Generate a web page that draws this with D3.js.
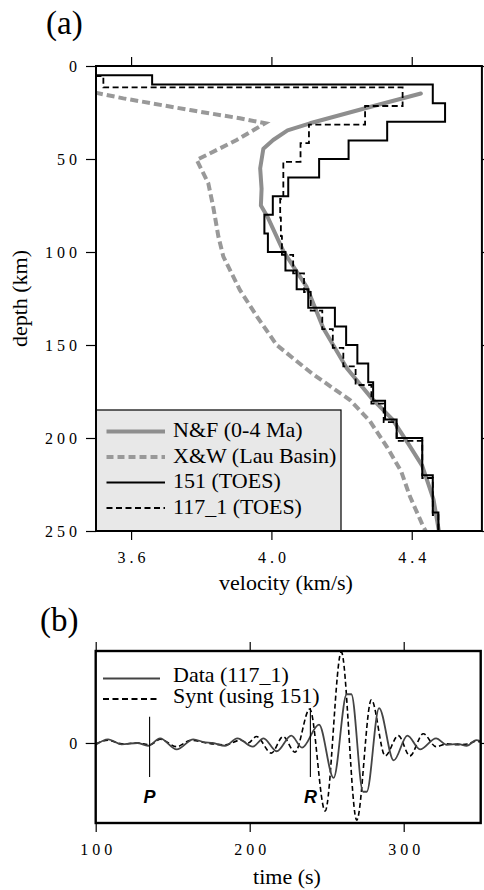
<!DOCTYPE html>
<html><head><meta charset="utf-8">
<script src="https://cdn.jsdelivr.net/npm/d3@7"></script>
<style>
html,body{margin:0;padding:0;background:#fff;}
svg{display:block;}
svg text{font-family:"Liberation Serif","Times New Roman",Tinos,"DejaVu Serif",serif;}
svg text.sans{font-family:"Liberation Sans",Arial,Helvetica,sans-serif;}
</style></head>
<body>
<svg id="chart" width="484" height="890"></svg>
<script>
// ---------- DATA ----------
// Panel (a): layered models (layer boundaries in km, velocities km/s)
const bounds151 = [0,5,10,20,30,40,50,60,70,80,90,100,110,120,130,140,150,160,170,180,190,200,210,220,230,240,250];
const vels151   = [3.5,3.66,4.46,4.495,4.33,4.22,4.136,4.048,4.004,3.98,3.99,4.04,4.072,4.105,4.181,4.213,4.245,4.276,4.29,4.324,4.357,4.43,4.43,4.46,4.46,4.476];
const bounds117 = [0,5.4,11.5,21.5,31.5,41.5,51.5,61.5,71.5,81.5,91.5,101.5,111.5,121.5,131.5,141.5,151.5,161.5,171.5,181.5,191.5,201.5,211.5,221.5,231.5,241.5,250];
const vels117   = [3.5,3.521,4.374,4.267,4.107,4.083,4.034,4.034,4.025,4.027,4.03,4.062,4.093,4.112,4.145,4.175,4.205,4.24,4.285,4.32,4.357,4.43,4.43,4.46,4.46,4.476];
// N&F (0-4 Ma) profile
const nfDepth = [14.8,22.6,30.8,34.6,39.8,44.5,55,66,75,81.5,99.5,118.6,141,162.5,178.7,190,203,215,233,249.5];
const nfVel   = [4.426,4.27,4.11,4.046,4.005,3.977,3.968,3.972,3.97,3.99,4.034,4.1,4.148,4.215,4.286,4.345,4.39,4.43,4.462,4.477];
// X&W (Lau Basin) profile
const xwDepth = [14.3,17.4,23.7,28.1,30.8,39.8,50.5,63,75.6,91.8,102.5,120.4,135,150,165.2,179.6,191,205,218,231.5,247.7,250];
const xwVel   = [3.497,3.578,3.768,3.91,3.982,3.901,3.787,3.82,3.834,3.849,3.863,3.91,3.96,4.015,4.115,4.224,4.281,4.33,4.37,4.395,4.433,4.44];
const velTicks = [3.6,4.0,4.4];
const depthTicks = [0,50,100,150,200,250];
const legendA = ["N&F (0-4 Ma)","X&W (Lau Basin)","151 (TOES)","117_1 (TOES)"];

// Panel (b): waveforms (time s, normalized amplitude)
const dataT = [100,108,116.7,127,134,141.8,152.6,163.4,170,176,184,192,202,209,217.5,227,234,245,254.5,263,266,273.6,276,284,293.5,302.4,310.6,321,328,335,341,347,350];
const dataA = [-0.02,0.04,-0.015,0.0,-0.03,0.05,-0.07,0.04,0.01,0.0,-0.03,0.05,-0.04,0.05,-0.09,0.08,-0.05,0.2,-0.38,0.53,0.53,-0.53,-0.53,0.38,-0.19,0.08,-0.07,0.05,-0.02,-0.01,-0.03,0.03,0.02];
const syntT = [100,108,117,127,135,142,152.5,162,172,184,194,199,204.4,214,221.7,229.4,239,249,259.5,269.5,279,288,296.5,304,312.7,321,328,335,342,347,350];
const syntA = [-0.01,0.03,-0.01,0.0,-0.02,0.04,-0.04,0.03,0.0,-0.02,0.03,0.0,0.07,-0.11,0.07,-0.1,0.37,-0.74,0.99,-0.84,0.47,-0.14,0.08,-0.14,0.1,-0.04,-0.01,-0.02,-0.01,0.02,0.01];
const timeTicks = [100,200,300];
const ampTicks = [0];
const phaseNames = ["P","R"];
const phaseTimes = [135,239.4];
const legendB = ["Data (117_1)","Synt (using 151)"];

// ---------- DRAW ----------
const svg = d3.select("#chart");

// ===== Panel (a) =====
const A = {l:96, r:481.9, t:66, b:531};
const x = d3.scaleLinear().domain([3.5,4.6]).range([A.l,A.r]);
const y = d3.scaleLinear().domain([0,250]).range([A.t,A.b]);

const defs = svg.append("defs");
defs.append("clipPath").attr("id","clipA")
  .append("rect").attr("x",A.l).attr("y",A.t).attr("width",A.r-A.l).attr("height",A.b-A.t);
defs.append("clipPath").attr("id","clipB")
  .append("rect").attr("x",95.7).attr("y",651).attr("width",385).attr("height",172);

const gA = svg.append("g").attr("clip-path","url(#clipA)");

function layerPts(bounds, vels){
  const pts=[];
  vels.forEach((v,i)=>{ pts.push([v,bounds[i]]); pts.push([v,bounds[i+1]]); });
  return pts;
}
const lineVD = d3.line().x(d=>x(d[0])).y(d=>y(d[1]));

gA.append("path").datum(xwVel.map((v,i)=>[v,xwDepth[i]]))
  .attr("d",lineVD).attr("fill","none").attr("stroke","#999").attr("stroke-width",4)
  .attr("stroke-dasharray","8,4");
gA.append("path").datum(nfVel.map((v,i)=>[v,nfDepth[i]]))
  .attr("d",lineVD).attr("fill","none").attr("stroke","#8e8e8e").attr("stroke-width",4)
  .attr("stroke-linejoin","round").attr("stroke-linecap","round");
gA.append("path").datum(layerPts(bounds151,vels151))
  .attr("d",lineVD).attr("fill","none").attr("stroke","#000").attr("stroke-width",2);
gA.append("path").datum(layerPts(bounds117,vels117))
  .attr("d",lineVD).attr("fill","none").attr("stroke","#000").attr("stroke-width",1.8)
  .attr("stroke-dasharray","6,3.5");

// legend (a)
const legA = svg.append("g");
legA.append("rect").attr("x",A.l).attr("y",410).attr("width",245).attr("height",A.b-410)
  .attr("fill","#e8e8e8").attr("stroke","#000").attr("stroke-width",1.2);
const legStyles = [
  {c:"#8e8e8e",w:4,d:null},
  {c:"#999",w:4,d:"7,4"},
  {c:"#000",w:2,d:null},
  {c:"#000",w:2,d:"6,3.5"}
];
legendA.forEach((t,i)=>{
  const ly = 431.5 + i*25.5;
  const ln = legA.append("line").attr("x1",106.5).attr("x2",165).attr("y1",ly).attr("y2",ly)
    .attr("stroke",legStyles[i].c).attr("stroke-width",legStyles[i].w);
  if(legStyles[i].d) ln.attr("stroke-dasharray",legStyles[i].d);
  legA.append("text").attr("x",173).attr("y",ly+5.5).text(t)
    .attr("font-size",22).attr("fill","#000");
});

// axes (a)
function styleAxis(g){
  g.select(".domain").remove();
  g.attr("font-family",null);
  g.selectAll(".tick line").attr("stroke","#000").attr("stroke-width",1.2);
  g.selectAll("text").attr("font-size",16)
    .attr("letter-spacing","4px").attr("fill","#000");
}
svg.append("g").attr("transform",`translate(${A.l},0)`)
  .call(d3.axisLeft(y).tickValues(depthTicks).tickSize(10).tickPadding(5).tickFormat(d3.format("d")))
  .call(styleAxis);
svg.append("g").attr("transform",`translate(${A.r},0)`)
  .call(d3.axisRight(y).tickValues(depthTicks).tickSize(9).tickFormat(""))
  .call(styleAxis);
svg.append("g").attr("transform",`translate(0,${A.b})`)
  .call(d3.axisBottom(x).tickValues(velTicks).tickSize(9).tickFormat(d3.format(".1f")))
  .call(styleAxis)
  .call(g=>g.selectAll("text").attr("y",32).attr("dy",0).attr("dx",2));
svg.append("g").attr("transform",`translate(0,${A.t})`)
  .call(d3.axisTop(x).tickValues(velTicks).tickSize(9).tickFormat(""))
  .call(styleAxis);

svg.append("rect").attr("x",A.l).attr("y",A.t).attr("width",A.r-A.l).attr("height",A.b-A.t)
  .attr("fill","none").attr("stroke","#000").attr("stroke-width",2);

svg.append("text").attr("x",286).attr("y",590).attr("text-anchor","middle")
  .attr("font-size",22).text("velocity (km/s)");
svg.append("text").attr("transform","translate(27,298.5) rotate(-90)").attr("text-anchor","middle")
  .attr("font-size",22).text("depth (km)");
svg.append("text").attr("x",46).attr("y",34).attr("font-size",33).text("(a)");

// ===== Panel (b) =====
const B = {l:95.7, r:480.7, t:651, b:823};
const xb = d3.scaleLinear().domain([100,350]).range([B.l,B.r]);
const yb = d3.scaleLinear().domain([-0.87,1]).range([B.b,B.t]);
const gB = svg.append("g").attr("clip-path","url(#clipB)");
const lineW = d3.line().x(d=>xb(d[0])).y(d=>yb(d[1])).curve(d3.curveMonotoneX);

gB.append("path").datum(syntT.map((t,i)=>[t,syntA[i]]))
  .attr("d",lineW).attr("fill","none").attr("stroke","#000").attr("stroke-width",1.6)
  .attr("stroke-dasharray","5,3");
gB.append("path").datum(dataT.map((t,i)=>[t,dataA[i]]))
  .attr("d",lineW).attr("fill","none").attr("stroke","#444").attr("stroke-width",1.8);

// phase markers
const phaseTop = [716.7,708];
phaseNames.forEach((p,i)=>{
  const px = xb(phaseTimes[i]);
  svg.append("line").attr("x1",px).attr("x2",px).attr("y1",phaseTop[i]).attr("y2",777)
    .attr("stroke","#000").attr("stroke-width",1.1);
  svg.append("text").attr("class","sans").attr("x",px).attr("y",803).attr("text-anchor","middle")
    .attr("font-weight","bold").attr("font-style","italic").attr("font-size",18).text(p);
});

// legend (b)
const legBStyles = [{c:"#444",w:2,d:null},{c:"#000",w:1.8,d:"6,3.5"}];
legendB.forEach((t,i)=>{
  const ly = 678.5 + i*20.5;
  const ln = svg.append("line").attr("x1",103).attr("x2",160).attr("y1",ly).attr("y2",ly)
    .attr("stroke",legBStyles[i].c).attr("stroke-width",legBStyles[i].w);
  if(legBStyles[i].d) ln.attr("stroke-dasharray",legBStyles[i].d);
  svg.append("text").attr("x",173).attr("y",ly+3.5).text(t)
    .attr("font-size",22).attr("fill","#000");
});

svg.append("g").attr("transform",`translate(${B.l},0)`)
  .call(d3.axisLeft(yb).tickValues(ampTicks).tickSize(10).tickPadding(4.5).tickFormat(d3.format("d")))
  .call(styleAxis);
svg.append("g").attr("transform",`translate(${B.r},0)`)
  .call(d3.axisRight(yb).tickValues(ampTicks).tickSize(9).tickFormat(""))
  .call(styleAxis);
svg.append("g").attr("transform",`translate(0,${B.b})`)
  .call(d3.axisBottom(xb).tickValues(timeTicks).tickSize(9).tickFormat(d3.format("d")))
  .call(styleAxis)
  .call(g=>g.selectAll("text").attr("y",32).attr("dy",0).attr("dx",2));
svg.append("g").attr("transform",`translate(0,${B.t})`)
  .call(d3.axisTop(xb).tickValues(timeTicks).tickSize(9).tickFormat(""))
  .call(styleAxis);

svg.append("rect").attr("x",B.l).attr("y",B.t).attr("width",B.r-B.l).attr("height",B.b-B.t)
  .attr("fill","none").attr("stroke","#000").attr("stroke-width",2.4);

svg.append("text").attr("x",287).attr("y",884).attr("text-anchor","middle")
  .attr("font-size",22).text("time (s)");
svg.append("text").attr("x",40).attr("y",631).attr("font-size",33).text("(b)");
</script>
</body></html>
